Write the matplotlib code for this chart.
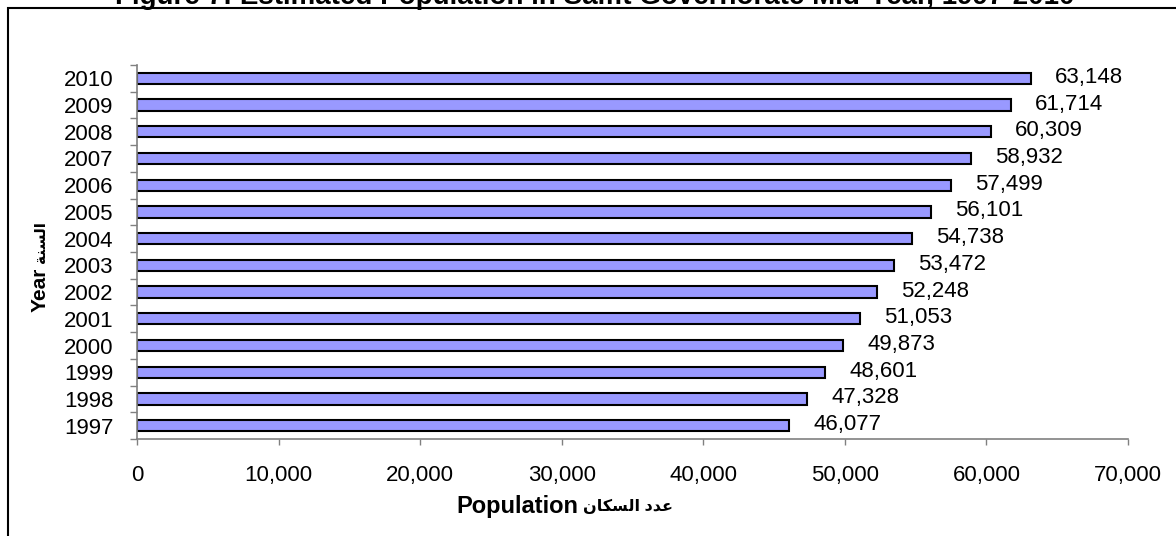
import matplotlib
matplotlib.use("Agg")
import matplotlib.pyplot as plt
import matplotlib.patches as patches
from matplotlib.ticker import FuncFormatter, FixedLocator

years = ["1997", "1998", "1999", "2000", "2001", "2002", "2003",
         "2004", "2005", "2006", "2007", "2008", "2009", "2010"]
population = [46077, 47328, 48601, 49873, 51053, 52248, 53472,
              54738, 56101, 57499, 58932, 60309, 61714, 63148]
x_ticks = [0, 10000, 20000, 30000, 40000, 50000, 60000, 70000]

title = "Figure 7: Estimated Population in Salfit Governorate Mid-Year, 1997-2010"
# arabic written in presentation forms, visual (left to right) order,
# because matplotlib does no shaping / bidi
ar_population = "\ufee5\ufe8e\ufedc\ufeb4\ufedf\ufe8d \ufea9\ufeaa\ufecb"  # عدد السكان
ar_year = "\ufe94\ufee8\ufeb4\ufedf\ufe8d"  # السنة

plt.rcParams['font.family'] = ['Liberation Sans', 'DejaVu Sans']
fs = 16
gray = "#808080"
W, H = 1176, 536

fig = plt.figure(figsize=(W/100, H/100), dpi=100)
ax = fig.add_axes([137/W, 1 - 439/H, 991/W, 374/H])

pos = list(range(len(years)))
ax.barh(pos, population, height=0.42, color="#9999FF", edgecolor="black", linewidth=1.5)

for p, v in zip(pos, population):
    ax.annotate(f"{v:,}", (v, p), xytext=(24, 1), textcoords="offset pixels",
                ha="left", va="center", fontsize=fs)

ax.set_xlim(0, 70000)
ax.set_ylim(-0.5, len(years) - 0.5)
ax.set_xticks(x_ticks)
ax.xaxis.set_major_formatter(FuncFormatter(lambda v, _: f"{int(v):,}"))
ax.set_yticks(pos)
ax.set_yticklabels(years)
ax.yaxis.set_minor_locator(FixedLocator([i - 0.5 for i in range(len(years) + 1)]))

ax.tick_params(axis="x", direction="out", length=4.5, width=1, color=gray,
               labelsize=fs, pad=14.5)
ax.tick_params(axis="y", which="major", length=0, labelsize=fs, pad=17)
ax.tick_params(axis="y", which="minor", direction="out", length=5, width=1, color=gray)

for s in ["top", "right"]:
    ax.spines[s].set_visible(False)
for s in ["left", "bottom"]:
    ax.spines[s].set_color(gray)
    ax.spines[s].set_linewidth(1.2)

# axis titles: latin and arabic parts drawn separately so their sizes can differ
fig.text(578/W, 1 - 506/H, "Population", ha="right", va="center",
         fontsize=17, fontweight="bold")
fig.text(583/W, 1 - 506/H, ar_population, ha="left", va="center",
         fontsize=11.5, fontweight="bold")
fig.text(40/W, 1 - 312/H, "Year", ha="center", va="bottom", rotation=90,
         fontsize=15, fontweight="bold")
fig.text(41/W, 1 - 263/H, ar_year, ha="center", va="bottom", rotation=90,
         fontsize=11, fontweight="bold")

# title sits partly above the top edge, as in the source picture
fig.text(595/W, 1 - 4/H, title, ha="center", va="baseline",
         fontsize=20, fontweight="bold")

frame = patches.Rectangle((7.5/W, -0.2), 1.5, 1.2 - 7.5/H, transform=fig.transFigure,
                          fill=False, edgecolor="black", linewidth=1.5, clip_on=False)
fig.patches.append(frame)

fig.savefig("out.png", dpi=100)
